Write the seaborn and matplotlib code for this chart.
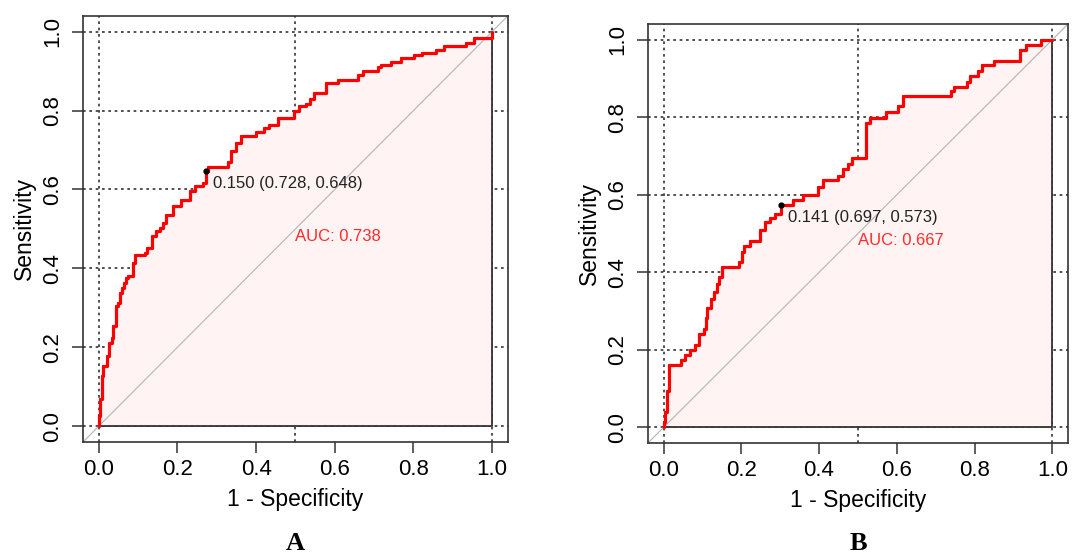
import matplotlib
matplotlib.use("Agg")
import matplotlib.pyplot as plt
import pandas as pd
import seaborn as sns

# ROC staircase vertices (1 - specificity, sensitivity)
fpr_a = [0.0, 0.0, 0.003, 0.008, 0.012, 0.020, 0.025, 0.033, 0.037, 0.043, 0.048,
         0.054, 0.058, 0.063, 0.069, 0.075, 0.086, 0.092, 0.118, 0.122, 0.135,
         0.146, 0.155, 0.163, 0.172, 0.189, 0.210, 0.231, 0.244, 0.265, 0.272,
         0.277, 0.328, 0.337, 0.349, 0.362, 0.400, 0.421, 0.434, 0.455, 0.497,
         0.510, 0.527, 0.536, 0.548, 0.578, 0.608, 0.658, 0.671, 0.709, 0.717,
         0.743, 0.768, 0.802, 0.823, 0.857, 0.878, 0.933, 0.954, 1.0]
tpr_a = [0.0, 0.026, 0.068, 0.127, 0.153, 0.178, 0.212, 0.224, 0.254, 0.305, 0.313,
         0.338, 0.351, 0.364, 0.376, 0.380, 0.414, 0.433, 0.440, 0.452, 0.482,
         0.494, 0.503, 0.515, 0.536, 0.557, 0.574, 0.595, 0.610, 0.616, 0.648,
         0.657, 0.670, 0.697, 0.718, 0.736, 0.745, 0.756, 0.764, 0.781, 0.798,
         0.811, 0.817, 0.830, 0.845, 0.870, 0.878, 0.891, 0.901, 0.910, 0.916,
         0.923, 0.933, 0.940, 0.946, 0.954, 0.963, 0.971, 0.984, 1.0]

fpr_b = [0.0, 0.0, 0.005, 0.009, 0.014, 0.044, 0.055, 0.067, 0.082, 0.091, 0.103,
         0.108, 0.112, 0.121, 0.129, 0.138, 0.142, 0.150, 0.195, 0.202, 0.206,
         0.223, 0.249, 0.262, 0.274, 0.287, 0.303, 0.334, 0.360, 0.398, 0.411,
         0.450, 0.462, 0.475, 0.484, 0.522, 0.531, 0.572, 0.603, 0.616, 0.740,
         0.746, 0.780, 0.789, 0.808, 0.820, 0.851, 0.917, 0.933, 0.971, 1.0]
tpr_b = [0.0, 0.013, 0.041, 0.093, 0.161, 0.174, 0.187, 0.201, 0.213, 0.241, 0.253,
         0.281, 0.307, 0.332, 0.349, 0.371, 0.388, 0.415, 0.426, 0.452, 0.469,
         0.482, 0.508, 0.529, 0.541, 0.550, 0.573, 0.587, 0.600, 0.619, 0.637,
         0.648, 0.666, 0.680, 0.695, 0.786, 0.798, 0.813, 0.828, 0.854, 0.867,
         0.879, 0.892, 0.907, 0.919, 0.935, 0.945, 0.973, 0.986, 1.0, 1.0]

# threshold, specificity, sensitivity
thr_a = (0.150, 0.728, 0.648)
thr_b = (0.141, 0.697, 0.573)
auc_a = 0.738
auc_b = 0.667

ticks = [0.0, 0.2, 0.4, 0.6, 0.8, 1.0]
tick_labels = ["0.0", "0.2", "0.4", "0.6", "0.8", "1.0"]
xgrid = [0.0, 0.5, 1.0]

sns.set_style("white")
plt.rcParams["font.family"] = ["Liberation Sans", "DejaVu Sans"]
plt.rcParams["text.color"] = "black"
plt.rcParams["axes.labelcolor"] = "black"
plt.rcParams["xtick.color"] = "black"
plt.rcParams["ytick.color"] = "black"

GRID = "#333333"
DOT = (0, (1.6, 2.2))


def draw_roc(ax, fpr, tpr, thr, auc, letter, lx):
    df = pd.DataFrame({"fpr": fpr, "tpr": tpr})
    for g in xgrid:
        ax.axvline(g, color=GRID, ls=DOT, lw=1.2, zorder=0.5)
    for g in ticks:
        ax.axhline(g, color=GRID, ls=DOT, lw=1.2, zorder=0.5)
    ax.fill_between(df["fpr"], df["tpr"], step="post", facecolor="#fff3f3",
                    edgecolor="#333333", lw=1.3, zorder=1)
    ax.axline((0, 0), (1, 1), color="#b4b4b4", lw=0.8, zorder=1.5)
    sns.lineplot(data=df, x="fpr", y="tpr", sort=False, estimator=None,
                 drawstyle="steps-post", color="#ff0000", lw=2.3, ax=ax, zorder=2)
    px, py = 1 - thr[1], thr[2]
    ax.plot([px], [py], "o", color="black", ms=3.5, zorder=3)
    ax.annotate(f"{thr[0]:.3f} ({thr[1]:.3f}, {thr[2]:.3f})", (px, py),
                xytext=(5, -9), textcoords="offset points", ha="left", va="center",
                fontsize=12, color="#222222", zorder=4)
    ax.text(0.5, 0.481, f"AUC: {auc:.3f}", ha="left", va="center",
            fontsize=12, color="#ff2a2a", zorder=4)

    ax.set_xlim(-0.04, 1.04)
    ax.set_ylim(-0.04, 1.04)
    ax.set_xticks(ticks)
    ax.set_xticklabels(tick_labels)
    ax.set_yticks(ticks)
    ax.set_yticklabels(tick_labels, rotation=90, va="center")
    ax.tick_params(axis="both", direction="out", length=8, width=1.1,
                   color="#333333", labelsize=16, pad=4, bottom=True, left=True)
    ax.tick_params(axis="y", pad=6)
    ax.set_xlabel("1 - Specificity", fontsize=16.5, labelpad=6)
    ax.set_ylabel("Sensitivity", fontsize=16.5, labelpad=5)
    for s in ax.spines.values():
        s.set_color("#333333")
        s.set_linewidth(1.2)
    fig.text(lx, 0.024, letter, ha="center", va="center", fontsize=19,
             fontweight="bold", family="Liberation Serif")


fig = plt.figure(figsize=(10.81, 5.57), dpi=100)
ax1 = fig.add_axes([0.0768, 0.2065, 0.393, 0.765])
ax2 = fig.add_axes([0.5994, 0.2047, 0.3885, 0.752])

draw_roc(ax1, fpr_a, tpr_a, thr_a, auc_a, "A", 0.273)
draw_roc(ax2, fpr_b, tpr_b, thr_b, auc_b, "B", 0.794)

fig.savefig("out.png", dpi=100, facecolor="white")
